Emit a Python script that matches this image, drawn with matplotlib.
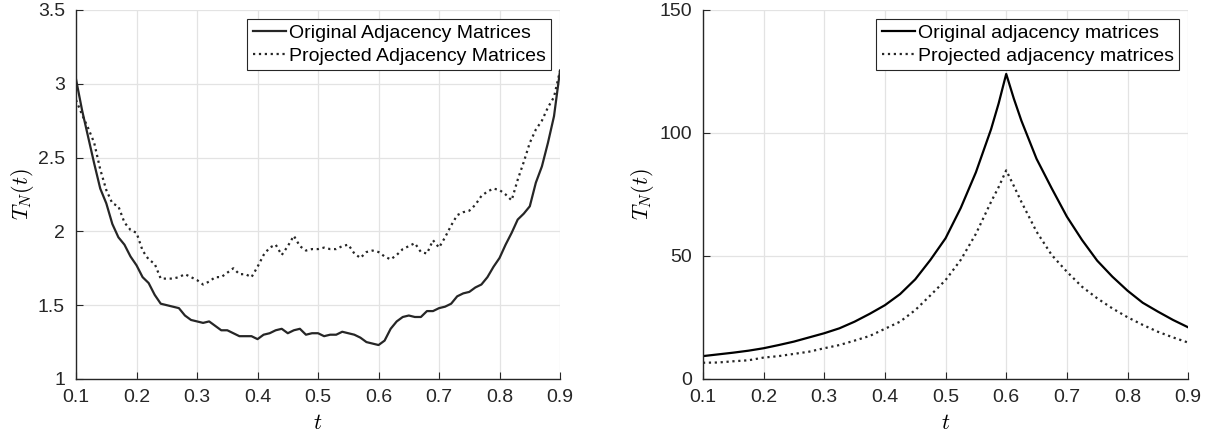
import numpy as np
import matplotlib
matplotlib.use("Agg")
import matplotlib.pyplot as plt

plt.rcParams['font.family'] = ['Liberation Sans', 'DejaVu Sans']
plt.rcParams['mathtext.fontset'] = 'cm'

# left panel: values read every 0.01 from t=0.1 to t=0.9
t_left = np.round(np.arange(0.10, 0.9001, 0.01), 2)
orig_left = [3.03, 2.82, 2.64, 2.46, 2.29, 2.19, 2.05, 1.96, 1.91, 1.83,
             1.77, 1.69, 1.65, 1.57, 1.51, 1.50, 1.49, 1.48, 1.43, 1.40,
             1.39, 1.38, 1.39, 1.36, 1.33, 1.33, 1.31, 1.29, 1.29, 1.29,
             1.27, 1.30, 1.31, 1.33, 1.34, 1.31, 1.33, 1.34, 1.30, 1.31,
             1.31, 1.29, 1.30, 1.30, 1.32, 1.31, 1.30, 1.28, 1.25, 1.24,
             1.23, 1.26, 1.34, 1.39, 1.42, 1.43, 1.42, 1.42, 1.46, 1.46,
             1.48, 1.49, 1.51, 1.56, 1.58, 1.59, 1.62, 1.64, 1.69, 1.76,
             1.82, 1.91, 1.99, 2.08, 2.12, 2.17, 2.33, 2.44, 2.60, 2.78,
             3.09]
proj_left = [2.89, 2.79, 2.70, 2.60, 2.42, 2.28, 2.19, 2.17, 2.06, 2.01,
             1.99, 1.87, 1.81, 1.78, 1.68, 1.68, 1.68, 1.69, 1.71, 1.69,
             1.67, 1.64, 1.66, 1.69, 1.69, 1.72, 1.75, 1.71, 1.71, 1.69,
             1.76, 1.84, 1.89, 1.91, 1.84, 1.90, 1.97, 1.90, 1.87, 1.88,
             1.88, 1.89, 1.88, 1.88, 1.90, 1.91, 1.85, 1.82, 1.86, 1.87,
             1.86, 1.83, 1.81, 1.84, 1.88, 1.90, 1.92, 1.86, 1.85, 1.94,
             1.89, 1.96, 2.04, 2.11, 2.13, 2.14, 2.18, 2.24, 2.27, 2.29,
             2.28, 2.25, 2.21, 2.35, 2.47, 2.60, 2.69, 2.75, 2.84, 2.91,
             3.09]

# right panel: values read every 0.025, plus two extra readings beside the peak
t_right = [0.1, 0.125, 0.15, 0.175, 0.2, 0.225, 0.25, 0.275, 0.3, 0.325,
           0.35, 0.375, 0.4, 0.425, 0.45, 0.475, 0.5, 0.525, 0.55, 0.575,
           0.5875, 0.6, 0.6125, 0.625, 0.65, 0.675, 0.7, 0.725, 0.75, 0.775,
           0.8, 0.825, 0.85, 0.875, 0.9]
orig_right = [9.3, 10.0, 10.7, 11.5, 12.5, 13.8, 15.2, 16.9, 18.6, 20.6,
              23.3, 26.5, 30.0, 34.5, 40.5, 48.4, 57.2, 69.5, 84.0, 101.5,
              112.0, 124.0, 114.0, 105.0, 89.5, 77.5, 66.0, 56.5, 48.1, 41.6,
              35.9, 31.0, 27.4, 24.0, 21.0]
proj_right = [6.6, 6.7, 7.2, 7.6, 8.7, 9.3, 10.2, 11.1, 12.5, 13.8,
              15.6, 17.5, 20.4, 23.3, 28.0, 34.0, 40.2, 48.4, 59.0, 72.0,
              78.0, 84.8, 78.5, 72.0, 59.9, 50.4, 43.6, 37.5, 32.8, 28.7,
              25.1, 22.0, 19.2, 16.9, 14.8]

x_ticks = [0.1, 0.2, 0.3, 0.4, 0.5, 0.6, 0.7, 0.8, 0.9]
x_labels = ['0.1', '0.2', '0.3', '0.4', '0.5', '0.6', '0.7', '0.8', '0.9']
left_yticks = [1, 1.5, 2, 2.5, 3, 3.5]
left_ylabels = ['1', '1.5', '2', '2.5', '3', '3.5']
right_yticks = [0, 50, 100, 150]
right_ylabels = ['0', '50', '100', '150']

fig = plt.figure(figsize=(12.07, 4.43), dpi=100)
ax1 = fig.add_axes([0.063, 0.1445, 0.401, 0.833])
ax2 = fig.add_axes([0.5824, 0.1445, 0.402, 0.833])


def style_axis(ax, yticks, ylabels, ylim, ylabelpad):
    ax.set_xlim(0.1, 0.9)
    ax.set_ylim(*ylim)
    ax.set_xticks(x_ticks)
    ax.set_xticklabels(x_labels)
    ax.set_yticks(yticks)
    ax.set_yticklabels(ylabels)
    ax.spines['top'].set_visible(False)
    ax.spines['right'].set_visible(False)
    for s in ['left', 'bottom']:
        ax.spines[s].set_color('#262626')
        ax.spines[s].set_linewidth(1.0)
    ax.tick_params(direction='in', length=5, width=0.8, color='#262626',
                   labelsize=14, labelcolor='#262626')
    ax.tick_params(axis='x', pad=7)
    ax.tick_params(axis='y', pad=8)
    ax.grid(True, color='#e3e3e3', linewidth=0.9)
    ax.set_axisbelow(True)
    ax.set_xlabel(r'$t$', fontsize=16, labelpad=5)
    ax.set_ylabel(r'$T_N(t)$', fontsize=16, labelpad=ylabelpad)


ax1.plot(t_left, orig_left, '-', color='#262626', linewidth=1.6,
         label='Original Adjacency Matrices')
ax1.plot(t_left, proj_left, ':', color='#262626', linewidth=1.6,
         label='Projected Adjacency Matrices')
style_axis(ax1, left_yticks, left_ylabels, (1, 3.5), 1)

ax2.plot(t_right, orig_right, '-', color='black', linewidth=1.6,
         label='Original adjacency matrices')
ax2.plot(t_right, proj_right, ':', color='#262626', linewidth=1.6,
         label='Projected adjacency matrices')
style_axis(ax2, right_yticks, right_ylabels, (0, 150), 2)

for ax in (ax1, ax2):
    leg = ax.legend(loc='upper right', fontsize=14, fancybox=False,
                    framealpha=1, edgecolor='#262626', handlelength=1.7,
                    handletextpad=0.15, borderpad=0.3, labelspacing=0.25,
                    borderaxespad=0.45)
    leg.get_frame().set_linewidth(0.8)

fig.savefig('out.png', dpi=100)
